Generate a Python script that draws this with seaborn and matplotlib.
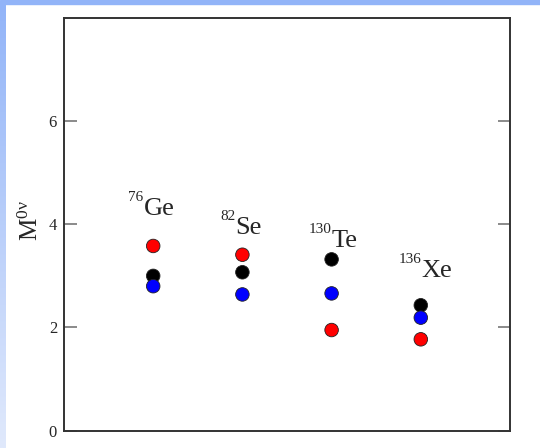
import numpy as np
import pandas as pd
import seaborn as sns
import matplotlib.pyplot as plt
from matplotlib.patches import Rectangle

# data
nuclei = ['Ge', 'Se', 'Te', 'Xe']
mass_numbers = ['76', '82', '130', '136']
pos = [1, 2, 3, 4]
m_black = [3.00, 3.07, 3.32, 2.43]
m_red = [3.58, 3.41, 1.95, 1.77]
m_blue = [2.80, 2.64, 2.66, 2.19]

# label layout (data coords)
label_x = [0.89, 1.92, 3.00, 4.01]
label_y = [4.18, 3.82, 3.56, 2.98]

df = pd.DataFrame({
    'x': pos * 3,
    'M': m_black + m_red + m_blue,
    'calc': ['black'] * 4 + ['red'] * 4 + ['blue'] * 4,
})

sns.set_style('ticks')
plt.rcParams['font.family'] = ['Liberation Serif', 'DejaVu Serif']
plt.rcParams['mathtext.fontset'] = 'custom'
plt.rcParams['mathtext.rm'] = 'Liberation Serif'
plt.rcParams['mathtext.it'] = 'Liberation Serif'

fig = plt.figure(figsize=(5.4, 4.48), dpi=100)
ax = fig.add_axes([64 / 540, 17.4 / 448, 446 / 540, 412.6 / 448])

sns.scatterplot(data=df, x='x', y='M', hue='calc',
                palette={'black': '#000000', 'red': '#ff0000', 'blue': '#0000ff'},
                s=95, edgecolor='#222222', linewidth=0.6, legend=False, ax=ax)

for i in range(len(nuclei)):
    ax.text(label_x[i], label_y[i], nuclei[i], ha='left', va='baseline', fontsize=19)
    ax.annotate(mass_numbers[i], (label_x[i], label_y[i]), xytext=(0, 10),
                textcoords='offset points', ha='right', va='baseline', fontsize=11)

ax.set_xlim(0, 5)
ax.set_ylim(0, 8)
ax.set_xticks([])
ax.set_yticks([0, 2, 4, 6])
ax.tick_params(axis='y', direction='in', length=9, width=1.2, color='#777777',
               right=True, labelsize=12, pad=5)
for sp in ax.spines.values():
    sp.set_linewidth(1.4)
    sp.set_color('#333333')
ax.set_xlabel('')
ax.set_ylabel(r'M$^{0\nu}$', fontsize=18)
ax.yaxis.set_label_coords(-0.047, 0.51)

# slide border: top band and left gradient strip
fig.patches.append(Rectangle((0, 1 - 4 / 448), 1, 4 / 448, transform=fig.transFigure,
                             color='#92b4f8', zorder=5))
strip = fig.add_axes([0, 0, 6 / 540, 1 - 4 / 448])
top = np.array([146, 180, 248]) / 255
bot = np.array([224, 233, 252]) / 255
t = np.linspace(0, 1, 200)[:, None]
grad = (top * (1 - t) + bot * t)[:, None, :]
strip.imshow(grad, aspect='auto', extent=[0, 1, 0, 1])
strip.axis('off')

fig.savefig('out.png', dpi=100)
